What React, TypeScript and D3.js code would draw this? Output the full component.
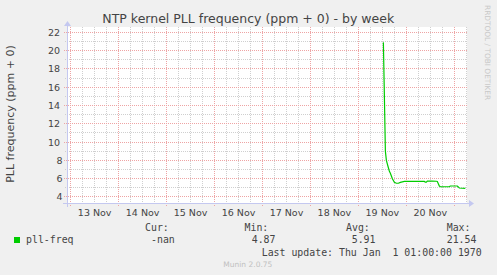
import React from 'react';
import * as d3 from 'd3';

// pll-freq samples (ppm)
const times = [
  '2015-11-19T12:30Z', '2015-11-19T13:00Z', '2015-11-19T13:30Z', '2015-11-19T14:00Z',
  '2015-11-19T14:30Z', '2015-11-19T15:00Z', '2015-11-19T15:30Z', '2015-11-19T16:00Z',
  '2015-11-19T16:30Z', '2015-11-19T17:00Z', '2015-11-19T17:30Z', '2015-11-19T18:00Z',
  '2015-11-19T19:00Z', '2015-11-19T20:00Z', '2015-11-19T21:00Z', '2015-11-19T22:00Z',
  '2015-11-19T23:00Z', '2015-11-20T03:00Z', '2015-11-20T07:00Z', '2015-11-20T09:00Z',
  '2015-11-20T09:30Z', '2015-11-20T10:00Z', '2015-11-20T10:30Z', '2015-11-20T13:00Z',
  '2015-11-20T15:00Z', '2015-11-20T15:30Z', '2015-11-20T16:00Z', '2015-11-20T16:30Z',
  '2015-11-20T17:00Z', '2015-11-20T21:30Z', '2015-11-20T22:00Z', '2015-11-21T01:30Z',
  '2015-11-21T02:00Z', '2015-11-21T02:30Z', '2015-11-21T05:30Z',
];
const freq = [
  20.9, 15.0, 9.0, 8.0,
  7.6, 7.2, 6.8, 6.6,
  6.3, 6.0, 5.8, 5.6,
  5.5, 5.5, 5.6, 5.65,
  5.7, 5.72, 5.7, 5.7,
  5.62, 5.62, 5.74, 5.74,
  5.72, 5.7, 5.45, 5.2,
  5.12, 5.12, 5.2, 5.2,
  5.1, 4.98, 4.95,
];

const yTicks = [4, 6, 8, 10, 12, 14, 16, 18, 20, 22];
const yMinor = [5, 7, 9, 11, 13, 15, 17, 19, 21];
const dayLabels = ['13 Nov', '14 Nov', '15 Nov', '16 Nov', '17 Nov', '18 Nov', '19 Nov', '20 Nov'];

const legendName = 'pll-freq';
const legendCols = ['Cur:', 'Min:', 'Avg:', 'Max:'];
const legendVals = ['-nan', '4.87', '5.91', '21.54'];
const lastUpdate = 'Last update: Thu Jan  1 01:00:00 1970';

const W = 497;
const H = 275;
const left = 67, right = 467, top = 27, bottom = 203;

const mono = 'DejaVu Sans Mono, monospace';
const sans = 'DejaVu Sans, sans-serif';

export default function App() {
  const x = d3
    .scaleUtc()
    .domain([new Date(Date.UTC(2015, 10, 12, 22, 9)), new Date(Date.UTC(2015, 10, 21, 6, 21))])
    .range([left, right]);
  const y = d3.scaleLinear().domain([3.344, 22.58]).range([bottom, top]);

  const [t0, t1] = x.domain();
  const minorX = d3.utcHour.every(6)!.range(t0, t1);
  const majorX = d3.utcDay.range(t0, t1);
  const noons = majorX.map(d => d3.utcHour.offset(d, 12)).filter(d => d < t1);

  const pts = times.map((t, i) => [new Date(t), freq[i]] as [Date, number]);
  const line = d3
    .line<[Date, number]>()
    .x(d => x(d[0]))
    .y(d => y(d[1]));

  const gridGray = '#cfcfcf';
  const gridRed = '#eea4a4';
  const axisCol = '#c4c8f0';
  const textCol = '#444';

  const colX = [145, 244.5, 346, 446.7];
  const valX = [151, 251.7, 351.7, 446.7];

  return (
    <svg
      width={W}
      height={H}
      style={{position: 'absolute', left: 0, top: 0, background: '#f0f0f0'}}
    >
      <rect x={0} y={0} width={W} height={H} fill="#f0f0f0" />
      <rect x={left} y={top} width={right - left} height={bottom - top} fill="#fff" />

      {/* minor grid */}
      {minorX.map((d, i) => (
        <line key={'mx' + i} x1={x(d)} x2={x(d)} y1={top} y2={bottom + 2}
          stroke={gridGray} strokeDasharray="1,1" shapeRendering="crispEdges" />
      ))}
      {yMinor.map(v => (
        <line key={'my' + v} x1={left - 2} x2={right} y1={y(v)} y2={y(v)}
          stroke={gridGray} strokeDasharray="1,1" shapeRendering="crispEdges" />
      ))}
      {/* major grid */}
      {majorX.map((d, i) => (
        <line key={'Mx' + i} x1={x(d)} x2={x(d)} y1={top} y2={bottom + 3}
          stroke={gridRed} strokeDasharray="1,1" shapeRendering="crispEdges" />
      ))}
      {yTicks.map(v => (
        <line key={'My' + v} x1={left - 3} x2={right} y1={y(v)} y2={y(v)}
          stroke={gridRed} strokeDasharray="1,1" shapeRendering="crispEdges" />
      ))}

      {/* axes */}
      <line x1={left - 4} x2={right + 2} y1={bottom + 0.5} y2={bottom + 0.5} stroke={axisCol} />
      <path d={`M${right + 2},${bottom - 3} L${right + 7},${bottom + 0.5} L${right + 2},${bottom + 4} Z`} fill={axisCol} />
      <line x1={left + 0.5} x2={left + 0.5} y1={bottom + 4} y2={top - 2} stroke={axisCol} />
      <path d={`M${left - 3},${top - 1} L${left + 0.5},${top - 6} L${left + 4},${top - 1} Z`} fill={axisCol} />

      {/* data line */}
      <path d={line(pts) || ''} fill="none" stroke="#00cc00" strokeWidth={1.2} />

      {/* y labels */}
      {yTicks.map(v => (
        <text key={'yl' + v} x={v >= 10 ? 60 : 62.5} y={y(v) + 3.4} textAnchor="end"
          fontFamily={sans} fontSize={9.5} fill={textCol}>
          {v}
        </text>
      ))}
      {/* x labels */}
      {noons.map((d, i) => (
        <text key={'xl' + i} x={x(d)} y={215.7} textAnchor="middle"
          fontFamily={sans} fontSize={9.5} fill={textCol}>
          {dayLabels[i]}
        </text>
      ))}

      {/* title */}
      <text x={248.3} y={23} textAnchor="middle" fontFamily={sans} fontSize={12.5} fill={textCol}>
        NTP kernel PLL frequency (ppm + 0) - by week
      </text>
      <text transform="translate(14,114) rotate(-90)" textAnchor="middle"
        fontFamily={sans} fontSize={11} fill={textCol}>
        PLL frequency (ppm + 0)
      </text>
      <text transform="translate(485,5) rotate(90)" fontFamily={sans} fontSize={7.4} fill="#c8c8c8">
        RRDTOOL / TOBI OETIKER
      </text>

      {/* legend */}
      {legendCols.map((c, i) => (
        <text key={'lc' + i} x={colX[i]} y={230.5} fontFamily={mono} fontSize={9.9} fill={textCol}>
          {c}
        </text>
      ))}
      <rect x={14} y={237} width={6} height={6} fill="#00cc00" />
      <text x={26} y={243} fontFamily={mono} fontSize={9.9} fill={textCol}>
        {legendName}
      </text>
      {legendVals.map((v, i) => (
        <text key={'lv' + i} x={valX[i]} y={243} fontFamily={mono} fontSize={9.9} fill={textCol}>
          {v}
        </text>
      ))}
      <text x={261.7} y={255.5} fontFamily={mono} fontSize={9.9} fill={textCol} style={{whiteSpace: 'pre'}}>
        {lastUpdate}
      </text>
      <text x={223.3} y={266.5} fontFamily={sans} fontSize={7.5} fill="#c0c0c0">
        Munin 2.0.75
      </text>
    </svg>
  );
}
